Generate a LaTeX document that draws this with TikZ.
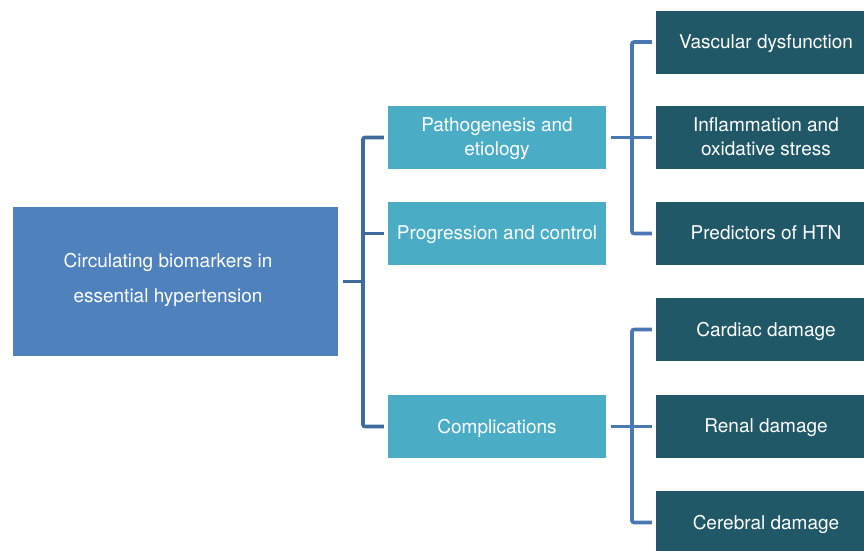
\documentclass[tikz,border=0pt]{standalone}
\usepackage{fontspec}
\setmainfont{TeX Gyre Heros}
\definecolor{mainblue}{HTML}{4F81BD}
\definecolor{midblue}{HTML}{4BACC6}
\definecolor{darkteal}{HTML}{215868}
\definecolor{lineA}{HTML}{3F6B9D}
\definecolor{lineB}{HTML}{4A78B4}
\begin{document}
\begin{tikzpicture}[x=1pt,y=-1pt,
  txt/.style={text=white,font=\fontsize{19}{24}\selectfont,align=center,inner sep=0pt},
  mainbox/.style={fill=mainblue,minimum width=325pt,minimum height=149pt,inner sep=0pt},
  midbox/.style={txt,fill=midblue,minimum width=218pt,minimum height=63pt,text depth=1pt},
  rightbox/.style={txt,fill=darkteal,minimum width=220pt,minimum height=63pt,text depth=1pt},
  conn/.style={line width=3.6pt,rounded corners=2pt,line cap=butt}]
\useasboundingbox (0,0) rectangle (864,550);
\clip (0,0) rectangle (864,550);
\node[mainbox] (main) at (175.5,281.5) {};
\node[txt,font=\fontsize{19}{35}\selectfont] (maintxt) at (168,279.5) {Circulating biomarkers in\\essential hypertension};
\node[midbox] (patho) at (497,137.5) {Pathogenesis and\\etiology};
\node[midbox] (prog) at (497,233.5) {Progression and control};
\node[midbox] (compl) at (497,426.5) {Complications};
\node[rightbox] (vasc) at (766,42) {Vascular dysfunction};
\node[rightbox] (infl) at (766,137.5) {Inflammation and\\oxidative stress};
\node[rightbox] (pred) at (766,233.5) {Predictors of HTN};
\node[rightbox] (card) at (766,329.5) {Cardiac damage};
\node[rightbox] (ren) at (766,426.5) {Renal damage};
\node[rightbox] (cer) at (766,522.5) {Cerebral damage};
\coordinate (v1) at (363,0);
\coordinate (v2) at (632,0);
% bracket 1
\draw[conn,draw=lineA] ([xshift=5pt]main.east) -- (v1 |- main.east);
\draw[conn,draw=lineA] ([xshift=-4pt]patho.west) -| (v1 |- compl.west) -- ([xshift=-4pt]compl.west);
\draw[conn,draw=lineA] (v1 |- prog.west) -- ([xshift=-4pt]prog.west);
% bracket 2
\draw[conn,draw=lineB] ([xshift=5pt]patho.east) -- (v2 |- patho.east);
\draw[conn,draw=lineB] ([xshift=-4pt]vasc.west) -| (v2 |- pred.west) -- ([xshift=-4pt]pred.west);
\draw[conn,draw=lineB] (v2 |- infl.west) -- ([xshift=-4pt]infl.west);
% bracket 3
\draw[conn,draw=lineB] ([xshift=5pt]compl.east) -- (v2 |- compl.east);
\draw[conn,draw=lineB] ([xshift=-4pt]card.west) -| (v2 |- cer.west) -- ([xshift=-4pt]cer.west);
\draw[conn,draw=lineB] (v2 |- ren.west) -- ([xshift=-4pt]ren.west);
\end{tikzpicture}
\end{document}
